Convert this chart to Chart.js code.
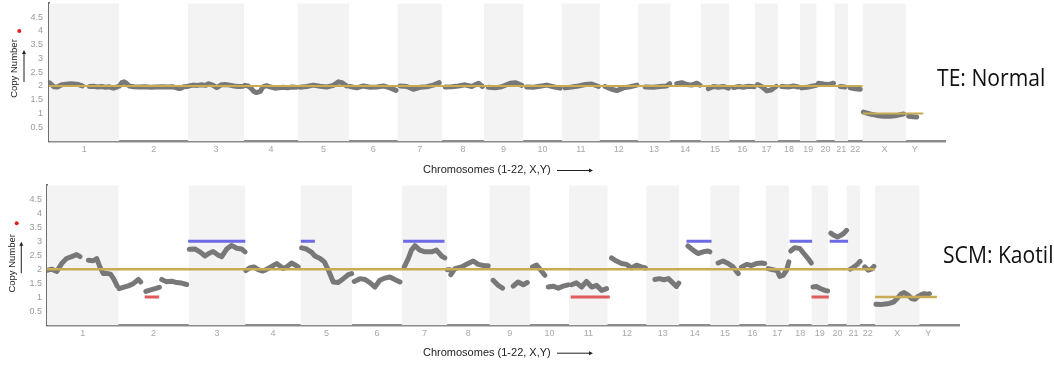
<!DOCTYPE html>
<html><head><meta charset="utf-8">
<script src="https://cdn.jsdelivr.net/npm/chart.js@4.4.1/dist/chart.umd.min.js"></script>
<style>
html,body{margin:0;padding:0;background:#fff;}
body{width:1054px;height:367px;position:relative;overflow:hidden;}
#c1{position:absolute;left:0;top:-4px;}
#c2{position:absolute;left:0;top:179px;}
.side{position:absolute;font-family:'Open Sans',sans-serif;font-size:24px;line-height:24px;color:#111;transform:scaleX(0.88);transform-origin:0 0;white-space:nowrap;}
</style></head><body>
<canvas id="c1" width="1054" height="184"></canvas>
<canvas id="c2" width="1054" height="188"></canvas>
<div class="side" style="left:937px;top:65px">TE: Normal</div>
<div class="side" style="left:943px;top:242px">SCM: Kaotil</div>
<script>
// ---- categories / axis data ----
const chromNames = ['1','2','3','4','5','6','7','8','9','10','11','12','13','14','15','16','17','18','19','20','21','22','X','Y'];
const chromLengthsMb = [249.25,243.2,198.0,191.15,180.9,171.1,159.1,146.4,141.2,135.5,135.0,133.9,115.2,107.35,102.5,90.35,81.2,78.1,59.1,63.0,48.1,51.3,155.3,59.4];
const yTickValues = [0.5,1,1.5,2,2.5,3,3.5,4,4.5];
const X_MAX = 3173;
const Y_MAX = 5;

// ---- TE: Normal (position in Mb, copy number) ----
const teMb = [
0,8,18,30,45,60,75,90,105,118,null,
143,158,172,186,200,214,228,242,null,
250,258,266,274,284,300,320,340,360,380,400,420,440,455,465,478,490,null,
495,510,525,540,555,564,580,594,610,625,640,655,670,688,null,
694,705,715,725,735,748,758,770,785,800,815,830,845,860,875,null,
889,913,936,960,984,1007,1025,1037,1054,null,
1066,1090,1113,1137,1161,1184,1208,1229,null,
1243,1267,1290,1314,1338,1361,1382,null,
1403,1426,1450,1473,1497,1521,1535,null,
1556,1580,1603,1633,1651,1674,null,
1692,1715,1739,1763,1786,1810,null,
1828,1851,1875,1899,1922,1946,null,
1969,1993,2011,2034,2058,2082,null,
2111,2140,2164,2187,2198,null,
2223,2241,2259,2276,2294,2305,null,
2335,2353,2371,2388,2406,null,
2424,2442,2459,2477,2497,null,
2509,2524,2542,2556,2575,null,
2595,2619,2636,2654,null,
2666,2684,2701,2717,null,
2725,2743,2760,2778,null,
2802,2819,null,
2837,2855,2873,null,
2884,2908,2932,2955,2979,3003,3026,null,
3044,3061,3073
];
const teCN = [
2.12,2.06,1.97,1.96,2.04,2.06,2.08,2.07,2.05,2.0,null,
1.98,1.99,1.96,1.98,1.95,1.97,1.92,1.97,null,
2.0,2.12,2.15,2.1,2.0,1.97,1.96,1.97,1.95,1.96,1.97,1.96,1.97,1.92,1.91,1.97,1.98,null,
2.0,2.03,2.02,2.04,2.02,2.08,2.03,1.94,2.04,2.05,2.03,2.0,1.98,1.99,null,
2.02,2.0,1.92,1.8,1.76,1.8,1.97,2.01,1.96,1.92,1.93,1.95,1.93,1.96,1.95,null,
1.95,1.98,2.03,1.99,1.96,2.02,2.15,2.12,2.0,null,
1.98,1.93,2.0,1.95,1.96,2.0,1.93,1.84,null,
2.0,1.98,1.88,1.95,1.97,2.03,2.12,null,
1.96,1.97,2.0,2.04,1.98,2.1,1.98,null,
1.95,1.93,1.97,2.1,2.12,2.02,null,
1.96,1.95,1.99,2.03,1.97,1.92,null,
1.93,1.96,2.0,2.05,2.07,1.98,null,
1.98,1.88,1.83,1.93,1.97,2.03,null,
1.96,1.95,1.98,2.0,2.08,null,
2.08,2.12,2.05,2.03,2.1,2.03,null,
1.9,1.98,1.95,1.98,1.92,null,
1.94,1.98,1.95,1.99,1.97,null,
2.05,1.98,1.82,1.85,1.98,null,
1.98,1.96,2.0,1.96,null,
1.93,1.95,1.99,2.02,null,
2.1,2.07,2.05,2.1,null,
1.98,1.96,null,
1.93,1.9,1.88,null,
1.05,0.98,0.93,0.9,0.9,0.93,0.98,null,
0.9,0.88,0.87
];

// ---- SCM: Kaotil (position in Mb, copy number) ----
const scmMb = [
0,16,34,51,68,86,103,115,null,
144,161,173,184,196,208,221,232,244,null,
251,265,283,300,318,326,null,
344,358,376,391,null,
399,416,434,451,468,486,null,
495,515,532,550,561,578,596,608,625,642,660,677,689,null,
692,706,720,735,750,758,776,799,822,834,851,863,874,null,
886,903,921,932,950,965,979,996,1013,1031,1048,1060,null,
1069,1089,1106,1123,1141,1158,1176,1193,1210,1228,null,
1243,1257,1268,1280,1297,1315,1338,1355,1373,1384,null,
1393,1402,null,
1405,1419,1442,1465,1483,1500,1522,1535,null,
1552,1570,1585,null,
1622,1639,1657,1671,null,
1689,1703,1715,1732,null,
1744,1761,1779,1796,1813,null,
1825,1842,1860,1877,1895,1912,1930,1947,null,
1964,1981,1999,2016,2034,2051,2068,2082,null,
2115,2130,2147,2162,2178,2190,2198,null,
2230,2248,2265,2283,2300,2306,null,
2335,2352,2370,2387,2405,null,
2416,2434,2451,2468,2486,2497,null,
2509,2526,2541,2549,2561,2573,2581,null,
2588,2601,2619,2634,2648,2659,null,
2665,2677,2692,2706,2716,null,
2727,2738,2750,2762,2773,2782,null,
2795,2808,2820,2829,null,
2845,2857,2868,2877,null,
2884,2900,2915,2930,2945,2958,2970,2982,2995,3008,3020,3030,null,
3040,3052,3064,3070
];
const scmCN = [
1.96,2.0,1.92,2.2,2.38,2.45,2.52,2.45,null,
2.32,2.3,2.38,2.08,1.84,1.85,1.82,1.65,1.4,null,
1.3,1.35,1.4,1.48,1.63,1.54,null,
1.2,1.25,1.3,1.35,null,
1.63,1.55,1.57,1.52,1.5,1.45,null,
2.71,2.72,2.62,2.47,2.55,2.63,2.5,2.45,2.72,2.85,2.75,2.72,2.62,null,
1.95,2.05,2.08,1.98,1.93,1.96,2.06,2.2,2.02,2.08,2.22,2.15,2.08,null,
2.76,2.72,2.6,2.47,2.38,2.26,1.96,1.54,1.52,1.66,1.8,1.84,null,
1.56,1.66,1.63,1.52,1.36,1.6,1.68,1.72,1.63,1.54,null,
2.08,2.38,2.68,2.84,2.68,2.62,2.62,2.68,2.47,2.4,null,
1.98,1.98,null,
1.8,2.02,2.08,2.2,2.29,2.17,2.12,2.12,null,
1.6,1.42,1.32,null,
1.39,1.54,1.44,1.52,null,
2.08,2.15,2.0,1.78,null,
1.36,1.39,1.32,1.39,1.44,null,
1.44,1.51,1.36,1.56,1.36,1.42,1.24,1.3,null,
2.4,2.29,2.2,2.17,2.04,2.14,2.08,2.04,null,
1.63,1.66,1.62,1.66,1.5,1.38,1.5,null,
2.83,2.68,2.56,2.62,2.65,2.62,null,
2.22,2.29,2.2,2.08,1.84,null,
2.07,2.17,2.13,2.2,2.22,2.2,null,
2.02,1.98,1.94,1.74,1.78,1.96,2.26,null,
2.65,2.77,2.74,2.55,2.38,2.22,null,
1.36,1.38,1.3,1.24,1.22,null,
3.29,3.21,3.15,3.21,3.29,3.39,null,
2.0,2.08,2.18,2.28,null,
2.08,1.96,2.0,2.1,null,
0.74,0.73,0.75,0.77,0.82,0.95,1.1,1.16,1.08,0.95,0.92,1.02,null,
1.08,1.12,1.1,1.12
];

// ---- reference (expected) copy number lines ----
const baselineStartMb = [0, 2881];
const baselineEndMb = [2881, 3096];
const baselineCN = [2, 1];

// ---- SCM called segments ----
const gainStartMb = [491, 883, 1239, 2225, 2584, 2723];
const gainEndMb = [690, 932, 1383, 2312, 2662, 2787];
const gainCN = [3, 3, 3, 3, 3, 3];
const lossStartMb = [340, 1822, 2660];
const lossEndMb = [390, 1958, 2720];
const lossCN = [1, 1, 1];

// ---- derived chromosome layout ----
const chromStarts = [];
let acc = 0;
chromLengthsMb.forEach(l => { chromStarts.push(acc); acc += l; });
const chromCenters = chromStarts.map((s, i) => s + chromLengthsMb[i] / 2);

function pts(xs, ys) { return xs.map((x, i) => ({ x: x, y: ys[i] })); }
function segs(starts, ends, levels) {
  const d = [];
  starts.forEach((s, i) => { d.push({ x: s, y: levels[i] }, { x: ends[i], y: levels[i] }, { x: null, y: null }); });
  return d;
}

const annotPlugin = {
  id: 'annot',
  afterDraw(chart, args, o) {
    const ctx = chart.ctx;
    ctx.save();
    ctx.save();
    ctx.translate(o.yTitleX, o.yTitleY);
    ctx.rotate(-Math.PI / 2);
    ctx.font = '9.5px "Liberation Sans", Arial, sans-serif';
    ctx.fillStyle = '#222';
    ctx.textAlign = 'center';
    ctx.textBaseline = 'middle';
    ctx.fillText('Copy Number', 0, 0);
    ctx.restore();
    ctx.strokeStyle = '#222';
    ctx.fillStyle = '#222';
    ctx.lineWidth = 1;
    ctx.beginPath();
    ctx.moveTo(o.vArrowX, o.vArrowY1);
    ctx.lineTo(o.vArrowX, o.vArrowY2 + 3);
    ctx.stroke();
    ctx.beginPath();
    ctx.moveTo(o.vArrowX, o.vArrowY2);
    ctx.lineTo(o.vArrowX - 2, o.vArrowY2 + 4);
    ctx.lineTo(o.vArrowX + 2, o.vArrowY2 + 4);
    ctx.closePath();
    ctx.fill();
    ctx.fillStyle = '#e01f1f';
    ctx.beginPath();
    ctx.arc(o.dotX, o.dotY, 2, 0, Math.PI * 2);
    ctx.fill();
    ctx.font = '11px "Liberation Sans", Arial, sans-serif';
    ctx.fillStyle = '#222';
    ctx.textAlign = 'left';
    ctx.textBaseline = 'middle';
    ctx.fillText('Chromosomes (1-22, X,Y)', o.xTitleX, o.xTitleY);
    ctx.beginPath();
    ctx.moveTo(o.hArrowX1, o.xTitleY + 0.5);
    ctx.lineTo(o.hArrowX2 - 3, o.xTitleY + 0.5);
    ctx.stroke();
    ctx.beginPath();
    ctx.moveTo(o.hArrowX2, o.xTitleY + 0.5);
    ctx.lineTo(o.hArrowX2 - 4, o.xTitleY - 1.5);
    ctx.lineTo(o.hArrowX2 - 4, o.xTitleY + 2.5);
    ctx.closePath();
    ctx.fill();
    ctx.restore();
  }
};

function makeChart(id, cfg) {
  const datasets = [];
  for (let i = 0; i < chromNames.length; i += 2) {
    datasets.push({
      data: [{ x: chromStarts[i], y: Y_MAX }, { x: chromStarts[i] + chromLengthsMb[i], y: Y_MAX }],
      fill: 'origin', backgroundColor: '#f3f3f3', borderWidth: 0, pointRadius: 0, order: 5
    });
  }
  datasets.push({
    data: pts(cfg.mb, cfg.cn), borderColor: '#787878', borderWidth: 5, pointRadius: 0,
    borderCapStyle: 'round', borderJoinStyle: 'round', fill: false, spanGaps: false, order: 4
  });
  datasets.push({
    data: segs(baselineStartMb, baselineEndMb, baselineCN), borderColor: '#c9aa55',
    borderWidth: cfg.baseWidth, pointRadius: 0, fill: false, spanGaps: false, order: 3
  });
  if (cfg.gains) {
    datasets.push({
      data: segs(gainStartMb, gainEndMb, gainCN), borderColor: '#6b6be3',
      borderWidth: 3, pointRadius: 0, fill: false, spanGaps: false, order: 2
    });
    datasets.push({
      data: segs(lossStartMb, lossEndMb, lossCN), borderColor: '#e05b5b',
      borderWidth: 3, pointRadius: 0, fill: false, spanGaps: false, order: 2
    });
  }
  return new Chart(document.getElementById(id), {
    type: 'line',
    data: { datasets },
    options: {
      responsive: false, animation: false, events: [],
      layout: { padding: { left: 0, right: cfg.padRight, top: 0, bottom: 0 } },
      elements: { line: { tension: 0 } },
      plugins: { legend: { display: false }, tooltip: { enabled: false }, annot: cfg.annot },
      scales: {
        x: {
          type: 'linear', min: 0, max: X_MAX,
          grid: { display: false, drawTicks: false },
          border: { display: true, color: '#8c8c8c', width: 2.5 },
          afterBuildTicks: s => { s.ticks = chromCenters.map(v => ({ value: v })); },
          afterFit: s => { s.height = cfg.xHeight; },
          ticks: {
            autoSkip: false, maxRotation: 0, minRotation: 0, padding: 3, color: '#a8a8a8',
            font: { size: 9, family: '"Liberation Sans", Arial, sans-serif' },
            callback: (v, i) => chromNames[i]
          }
        },
        y: {
          min: 0, max: Y_MAX,
          grid: { display: false, drawTicks: false },
          border: { display: true, color: '#6f6f6f', width: 2 },
          afterBuildTicks: s => { s.ticks = yTickValues.map(v => ({ value: v })); },
          afterFit: s => { s.width = cfg.yWidth; },
          ticks: {
            padding: cfg.yPad, color: '#9a9a9a',
            font: { size: 9, lineHeight: 0.3, family: '"Liberation Sans", Arial, sans-serif' },
            callback: v => String(v)
          }
        }
      }
    },
    plugins: [annotPlugin]
  });
}

// top canvas sits 4px above the page top
makeChart('c1', {
  mb: teMb, cn: teCN, gains: false, baseWidth: 2,
  padRight: 109, xHeight: 39, yWidth: 49, yPad: 6,
  annot: { yTitleX: 14, yTitleY: 72.5, vArrowX: 24, vArrowY1: 86, vArrowY2: 54, dotX: 19.3, dotY: 35,
           xTitleX: 423, xTitleY: 174, hArrowX1: 557, hArrowX2: 593 }
});
// bottom canvas starts at page y = 179
makeChart('c2', {
  mb: scmMb, cn: scmCN, gains: true, baseWidth: 2.5,
  padRight: 95, xHeight: 42, yWidth: 47, yPad: 5,
  annot: { yTitleX: 12, yTitleY: 84.3, vArrowX: 21.3, vArrowY1: 94.3, vArrowY2: 62.7, dotX: 16.7, dotY: 44.3,
           xTitleX: 423, xTitleY: 173.7, hArrowX1: 557, hArrowX2: 593 }
});
</script>
</body></html>
